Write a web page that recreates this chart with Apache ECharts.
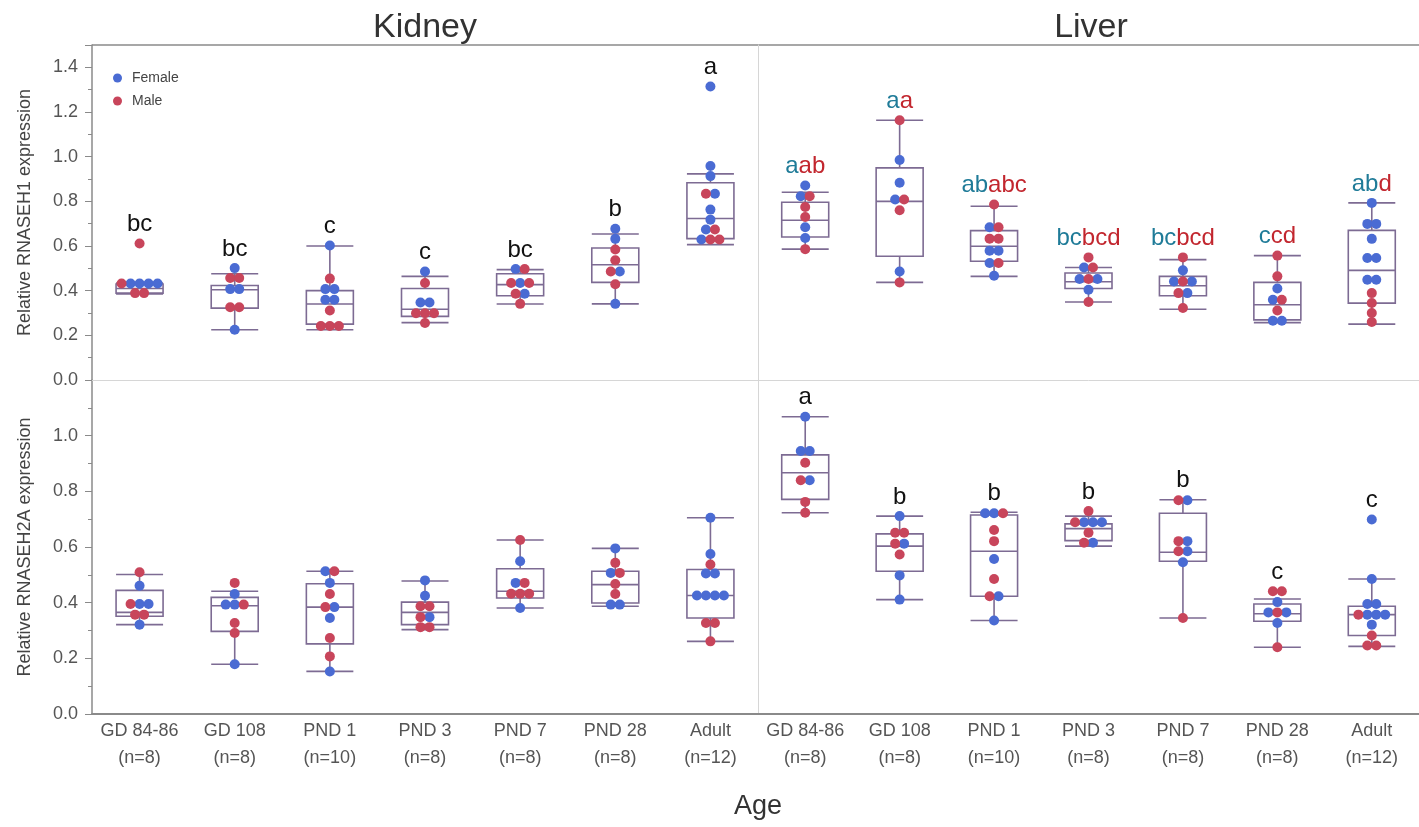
<!DOCTYPE html>
<html>
<head>
<meta charset="utf-8">
<script src="https://cdn.jsdelivr.net/npm/echarts@6/dist/echarts.min.js"></script>
<style>
html,body{margin:0;padding:0;background:#fff;}
#chart{width:1419px;height:827px;}
</style>
</head>
<body>
<div id="chart"></div>
<script>
// ---------------- DATA ----------------
const categories = ['GD 84-86', 'GD 108', 'PND 1', 'PND 3', 'PND 7', 'PND 28', 'Adult'];
const sampleSizes = [8, 8, 10, 8, 8, 8, 12];
const sexNames = { F: 'Female', M: 'Male' };

// Each row: [value, sexes left-to-right] ; boxes: [lowerWhisker, Q1, median, Q3, upperWhisker]
const kidneyH1Rows = [
  [[0.611, 'M'], [0.432, 'MFFFF'], [0.389, 'MM']],
  [[0.501, 'F'], [0.457, 'MM'], [0.407, 'FF'], [0.326, 'MM'], [0.225, 'F']],
  [[0.602, 'F'], [0.454, 'M'], [0.407, 'FF'], [0.359, 'FF'], [0.311, 'M'], [0.242, 'MMM']],
  [[0.486, 'F'], [0.434, 'M'], [0.347, 'FF'], [0.299, 'MMM'], [0.255, 'M']],
  [[0.497, 'FM'], [0.434, 'MFM'], [0.386, 'MF'], [0.341, 'M']],
  [[0.677, 'F'], [0.632, 'F'], [0.584, 'M'], [0.536, 'M'], [0.486, 'MF'], [0.429, 'M'], [0.341, 'F']],
  [[1.314, 'F'], [0.958, 'F'], [0.913, 'F'], [0.834, 'MF'], [0.763, 'F'], [0.718, 'F'], [0.674, 'FM'], [0.629, 'FMM']]
];
const kidneyH1Box = [
  [0.385, 0.389, 0.41, 0.43, 0.434],
  [0.225, 0.322, 0.404, 0.423, 0.476],
  [0.225, 0.25, 0.34, 0.40, 0.60],
  [0.257, 0.285, 0.317, 0.41, 0.464],
  [0.34, 0.377, 0.427, 0.476, 0.494],
  [0.341, 0.437, 0.516, 0.591, 0.654],
  [0.606, 0.633, 0.723, 0.883, 0.923]
];
const kidneyH1Letters = ['bc', 'bc', 'c', 'c', 'bc', 'b', 'a'];

const liverH1Rows = [
  [[0.871, 'F'], [0.823, 'FM'], [0.775, 'M'], [0.730, 'M'], [0.684, 'F'], [0.636, 'F'], [0.586, 'M']],
  [[1.163, 'M'], [0.985, 'F'], [0.883, 'F'], [0.808, 'FM'], [0.760, 'M'], [0.486, 'F'], [0.437, 'M']],
  [[0.786, 'M'], [0.684, 'FM'], [0.633, 'MM'], [0.579, 'FF'], [0.524, 'FM'], [0.467, 'F']],
  [[0.549, 'M'], [0.504, 'FM'], [0.452, 'FMF'], [0.404, 'F'], [0.349, 'M']],
  [[0.549, 'M'], [0.491, 'F'], [0.441, 'FMF'], [0.389, 'MF'], [0.322, 'M']],
  [[0.557, 'M'], [0.464, 'M'], [0.41, 'F'], [0.359, 'FM'], [0.311, 'M'], [0.265, 'FF']],
  [[0.793, 'F'], [0.699, 'FF'], [0.632, 'F'], [0.546, 'FF'], [0.449, 'FF'], [0.389, 'M'], [0.345, 'M'], [0.30, 'M'], [0.26, 'M']]
];
const liverH1Box = [
  [0.586, 0.64, 0.715, 0.796, 0.841],
  [0.437, 0.554, 0.80, 0.95, 1.163],
  [0.464, 0.532, 0.599, 0.669, 0.778],
  [0.349, 0.41, 0.44, 0.479, 0.504],
  [0.317, 0.377, 0.422, 0.464, 0.539],
  [0.257, 0.269, 0.337, 0.437, 0.557],
  [0.25, 0.344, 0.491, 0.67, 0.793]
];
const liverH1LettersFemale = ['a', 'a', 'ab', 'bc', 'bc', 'c', 'ab'];
const liverH1LettersMale = ['ab', 'a', 'abc', 'bcd', 'bcd', 'cd', 'd'];

const kidneyH2Rows = [
  [[0.509, 'M'], [0.461, 'F'], [0.395, 'MFF'], [0.357, 'MM'], [0.321, 'F']],
  [[0.471, 'M'], [0.431, 'F'], [0.393, 'FFM'], [0.327, 'M'], [0.291, 'M'], [0.179, 'F']],
  [[0.513, 'FM'], [0.471, 'F'], [0.431, 'M'], [0.384, 'MF'], [0.345, 'F'], [0.273, 'M'], [0.207, 'M'], [0.153, 'F']],
  [[0.48, 'F'], [0.425, 'F'], [0.387, 'MM'], [0.348, 'MF'], [0.312, 'MM']],
  [[0.625, 'M'], [0.549, 'F'], [0.471, 'FM'], [0.432, 'MMM'], [0.381, 'F']],
  [[0.595, 'F'], [0.543, 'M'], [0.507, 'FM'], [0.467, 'M'], [0.431, 'M'], [0.393, 'FF']],
  [[0.705, 'F'], [0.575, 'F'], [0.537, 'M'], [0.505, 'FF'], [0.426, 'FFFF'], [0.327, 'MM'], [0.261, 'M']]
];
const kidneyH2Box = [
  [0.321, 0.351, 0.365, 0.444, 0.501],
  [0.179, 0.297, 0.389, 0.419, 0.441],
  [0.153, 0.252, 0.384, 0.468, 0.513],
  [0.303, 0.321, 0.365, 0.402, 0.478],
  [0.381, 0.417, 0.441, 0.522, 0.625],
  [0.387, 0.399, 0.465, 0.513, 0.595],
  [0.261, 0.345, 0.426, 0.519, 0.705]
];

const liverH2Rows = [
  [[1.068, 'F'], [0.945, 'FF'], [0.903, 'M'], [0.840, 'MF'], [0.762, 'M'], [0.723, 'M']],
  [[0.711, 'F'], [0.651, 'MM'], [0.612, 'MF'], [0.573, 'M'], [0.498, 'F'], [0.411, 'F']],
  [[0.721, 'FFM'], [0.661, 'M'], [0.621, 'M'], [0.557, 'F'], [0.485, 'M'], [0.423, 'MF'], [0.336, 'F']],
  [[0.729, 'M'], [0.689, 'MFFF'], [0.651, 'M'], [0.615, 'MF']],
  [[0.768, 'MF'], [0.621, 'MF'], [0.585, 'MF'], [0.545, 'F'], [0.345, 'M']],
  [[0.441, 'MM'], [0.402, 'F'], [0.365, 'FMF'], [0.327, 'F'], [0.24, 'M']],
  [[0.699, 'F'], [0.485, 'F'], [0.395, 'FF'], [0.357, 'MFFF'], [0.321, 'F'], [0.282, 'M'], [0.246, 'MM']]
];
const liverH2Box = [
  [0.723, 0.771, 0.867, 0.931, 1.068],
  [0.411, 0.513, 0.603, 0.647, 0.711],
  [0.336, 0.423, 0.585, 0.715, 0.725],
  [0.603, 0.623, 0.666, 0.683, 0.711],
  [0.345, 0.549, 0.581, 0.721, 0.77],
  [0.24, 0.333, 0.36, 0.395, 0.413],
  [0.243, 0.282, 0.357, 0.387, 0.485]
];
const liverH2Letters = ['a', 'b', 'b', 'b', 'b', 'c', 'c'];

// ---------------- STYLE / LAYOUT ----------------
const FONT = '"Liberation Sans", Arial, sans-serif';
const COL = { F: '#4a6bd3', M: '#c8455b' };
const BOX_COLOR = '#7d6b93';
const TEAL = '#1f7b98', DARKRED = '#c2262e';
const GRID_W = 666;
const BAND_PX = GRID_W / categories.length;
const DOT_STEP = 9 / BAND_PX;   // horizontal spacing of dots in category units

const grids = [
  { left: 92, top: 45, width: GRID_W, height: 335 },
  { left: 758, top: 45, width: GRID_W, height: 335 },
  { left: 92, top: 380, width: GRID_W, height: 334 },
  { left: 758, top: 380, width: GRID_W, height: 334 }
];

const panels = [
  { rows: kidneyH1Rows, box: kidneyH1Box, max: 1.5, labelTop: 1.45, letters: kidneyH1Letters },
  { rows: liverH1Rows, box: liverH1Box, max: 1.5, labelTop: 1.45, lettersF: liverH1LettersFemale, lettersM: liverH1LettersMale },
  { rows: kidneyH2Rows, box: kidneyH2Box, max: 1.2, labelTop: 1.05 },
  { rows: liverH2Rows, box: liverH2Box, max: 1.2, labelTop: 1.05, letters: liverH2Letters }
];

const xAxes = [], yAxes = [], series = [];
panels.forEach((p, gi) => {
  const isBottom = gi >= 2;
  const isLeft = gi % 2 === 0;
  xAxes.push({
    type: 'category', gridIndex: gi, data: categories,
    axisTick: { show: false },
    axisLine: { show: true, onZero: false, lineStyle: { color: isBottom ? '#8a8a8a' : '#d6d6d6', width: isBottom ? 2 : 1 } },
    axisLabel: isBottom ? {
      show: true, interval: 0, hideOverlap: false, fontFamily: FONT, fontSize: 18, color: '#555', lineHeight: 27, margin: 4,
      formatter: (v, i) => v + '\n(n=' + sampleSizes[i] + ')'
    } : { show: false }
  });
  yAxes.push({
    type: 'value', gridIndex: gi, min: 0, max: p.max, interval: 0.2,
    name: isLeft ? (isBottom ? 'Relative RNASEH2A expression' : 'Relative RNASEH1 expression') : '',
    nameLocation: 'middle', nameGap: 58,
    nameTextStyle: { fontFamily: FONT, fontSize: 18, color: '#444' },
    axisLine: { show: true, onZero: false, lineStyle: { color: isLeft ? '#8a8a8a' : '#d6d6d6', width: isLeft ? 1.5 : 1 } },
    axisTick: { show: isLeft, length: 7, lineStyle: { color: '#8a8a8a' } },
    minorTick: { show: isLeft, splitNumber: 2, length: 4, lineStyle: { color: '#8a8a8a' } },
    splitLine: { show: false },
    axisLabel: {
      show: isLeft, fontFamily: FONT, fontSize: 18, color: '#555', margin: 14,
      formatter: v => (v <= p.labelTop && Math.abs(v * 5 - Math.round(v * 5)) < 1e-6) ? v.toFixed(1) : ''
    }
  });
  series.push({
    type: 'boxplot', xAxisIndex: gi, yAxisIndex: gi, silent: true,
    boxWidth: [47, 47], data: p.box, z: 2,
    itemStyle: { color: 'rgba(0,0,0,0)', borderColor: BOX_COLOR, borderWidth: 1.6 }
  });
});
panels.forEach((p, gi) => {
  xAxes.push({ type: 'value', gridIndex: gi, min: -0.5, max: categories.length - 0.5, show: false });
});

panels.forEach((p, gi) => {
  const pts = { F: [], M: [] };
  const tops = [];
  p.rows.forEach((rows, ci) => {
    let top = p.box[ci][4];
    rows.forEach(([v, sexes]) => {
      const k = sexes.length;
      for (let j = 0; j < k; j++) {
        pts[sexes[j]].push([ci + (j - (k - 1) / 2) * DOT_STEP, v]);
      }
      if (v > top) top = v;
    });
    tops.push([ci, top]);
  });
  ['F', 'M'].forEach(s => {
    series.push({
      type: 'scatter', name: sexNames[s], xAxisIndex: 4 + gi, yAxisIndex: gi,
      data: pts[s], symbol: 'circle', symbolSize: 10, silent: true, z: 5,
      itemStyle: { color: COL[s], opacity: 1 }
    });
  });
  if (p.letters || p.lettersF) {
    series.push({
      type: 'scatter', xAxisIndex: 4 + gi, yAxisIndex: gi, data: tops,
      symbolSize: 2, itemStyle: { color: 'rgba(0,0,0,0)' }, silent: true, z: 6,
      label: {
        show: true, position: 'top', distance: 6, opacity: 1,
        fontFamily: FONT, fontSize: 24, color: '#111',
        formatter: prm => p.letters ? p.letters[prm.dataIndex]
          : '{f|' + p.lettersF[prm.dataIndex] + '}{m|' + p.lettersM[prm.dataIndex] + '}',
        rich: {
          f: { fontFamily: FONT, fontSize: 24, color: TEAL },
          m: { fontFamily: FONT, fontSize: 24, color: DARKRED }
        }
      }
    });
  }
});

const option = {
  animation: false,
  backgroundColor: '#ffffff',
  textStyle: { fontFamily: FONT },
  grid: grids,
  xAxis: xAxes,
  yAxis: yAxes,
  legend: {
    data: ['Female', 'Male'], orient: 'vertical', left: 108, top: 66,
    icon: 'circle', itemWidth: 9, itemHeight: 9, itemGap: 9,
    selectedMode: false,
    textStyle: { fontFamily: FONT, fontSize: 14, color: '#444', padding: [0, 0, 0, 5] }
  },
  graphic: [
    { type: 'line', shape: { x1: 92, y1: 45, x2: 1419, y2: 45 }, style: { stroke: '#8a8a8a', lineWidth: 1.5 }, silent: true },
    { type: 'text', x: 425, y: 11, style: { text: 'Kidney', fontFamily: FONT, fontSize: 34, fill: '#333', textAlign: 'center', textVerticalAlign: 'top' }, silent: true },
    { type: 'text', x: 1091, y: 11, style: { text: 'Liver', fontFamily: FONT, fontSize: 34, fill: '#333', textAlign: 'center', textVerticalAlign: 'top' }, silent: true },
    { type: 'text', x: 758, y: 807, style: { text: 'Age', fontFamily: FONT, fontSize: 27, fill: '#333', textAlign: 'center', textVerticalAlign: 'middle' }, silent: true }
  ],
  series: series
};

const chart = echarts.init(document.getElementById('chart'), null, { renderer: 'canvas' });
chart.setOption(option);
</script>
</body>
</html>
